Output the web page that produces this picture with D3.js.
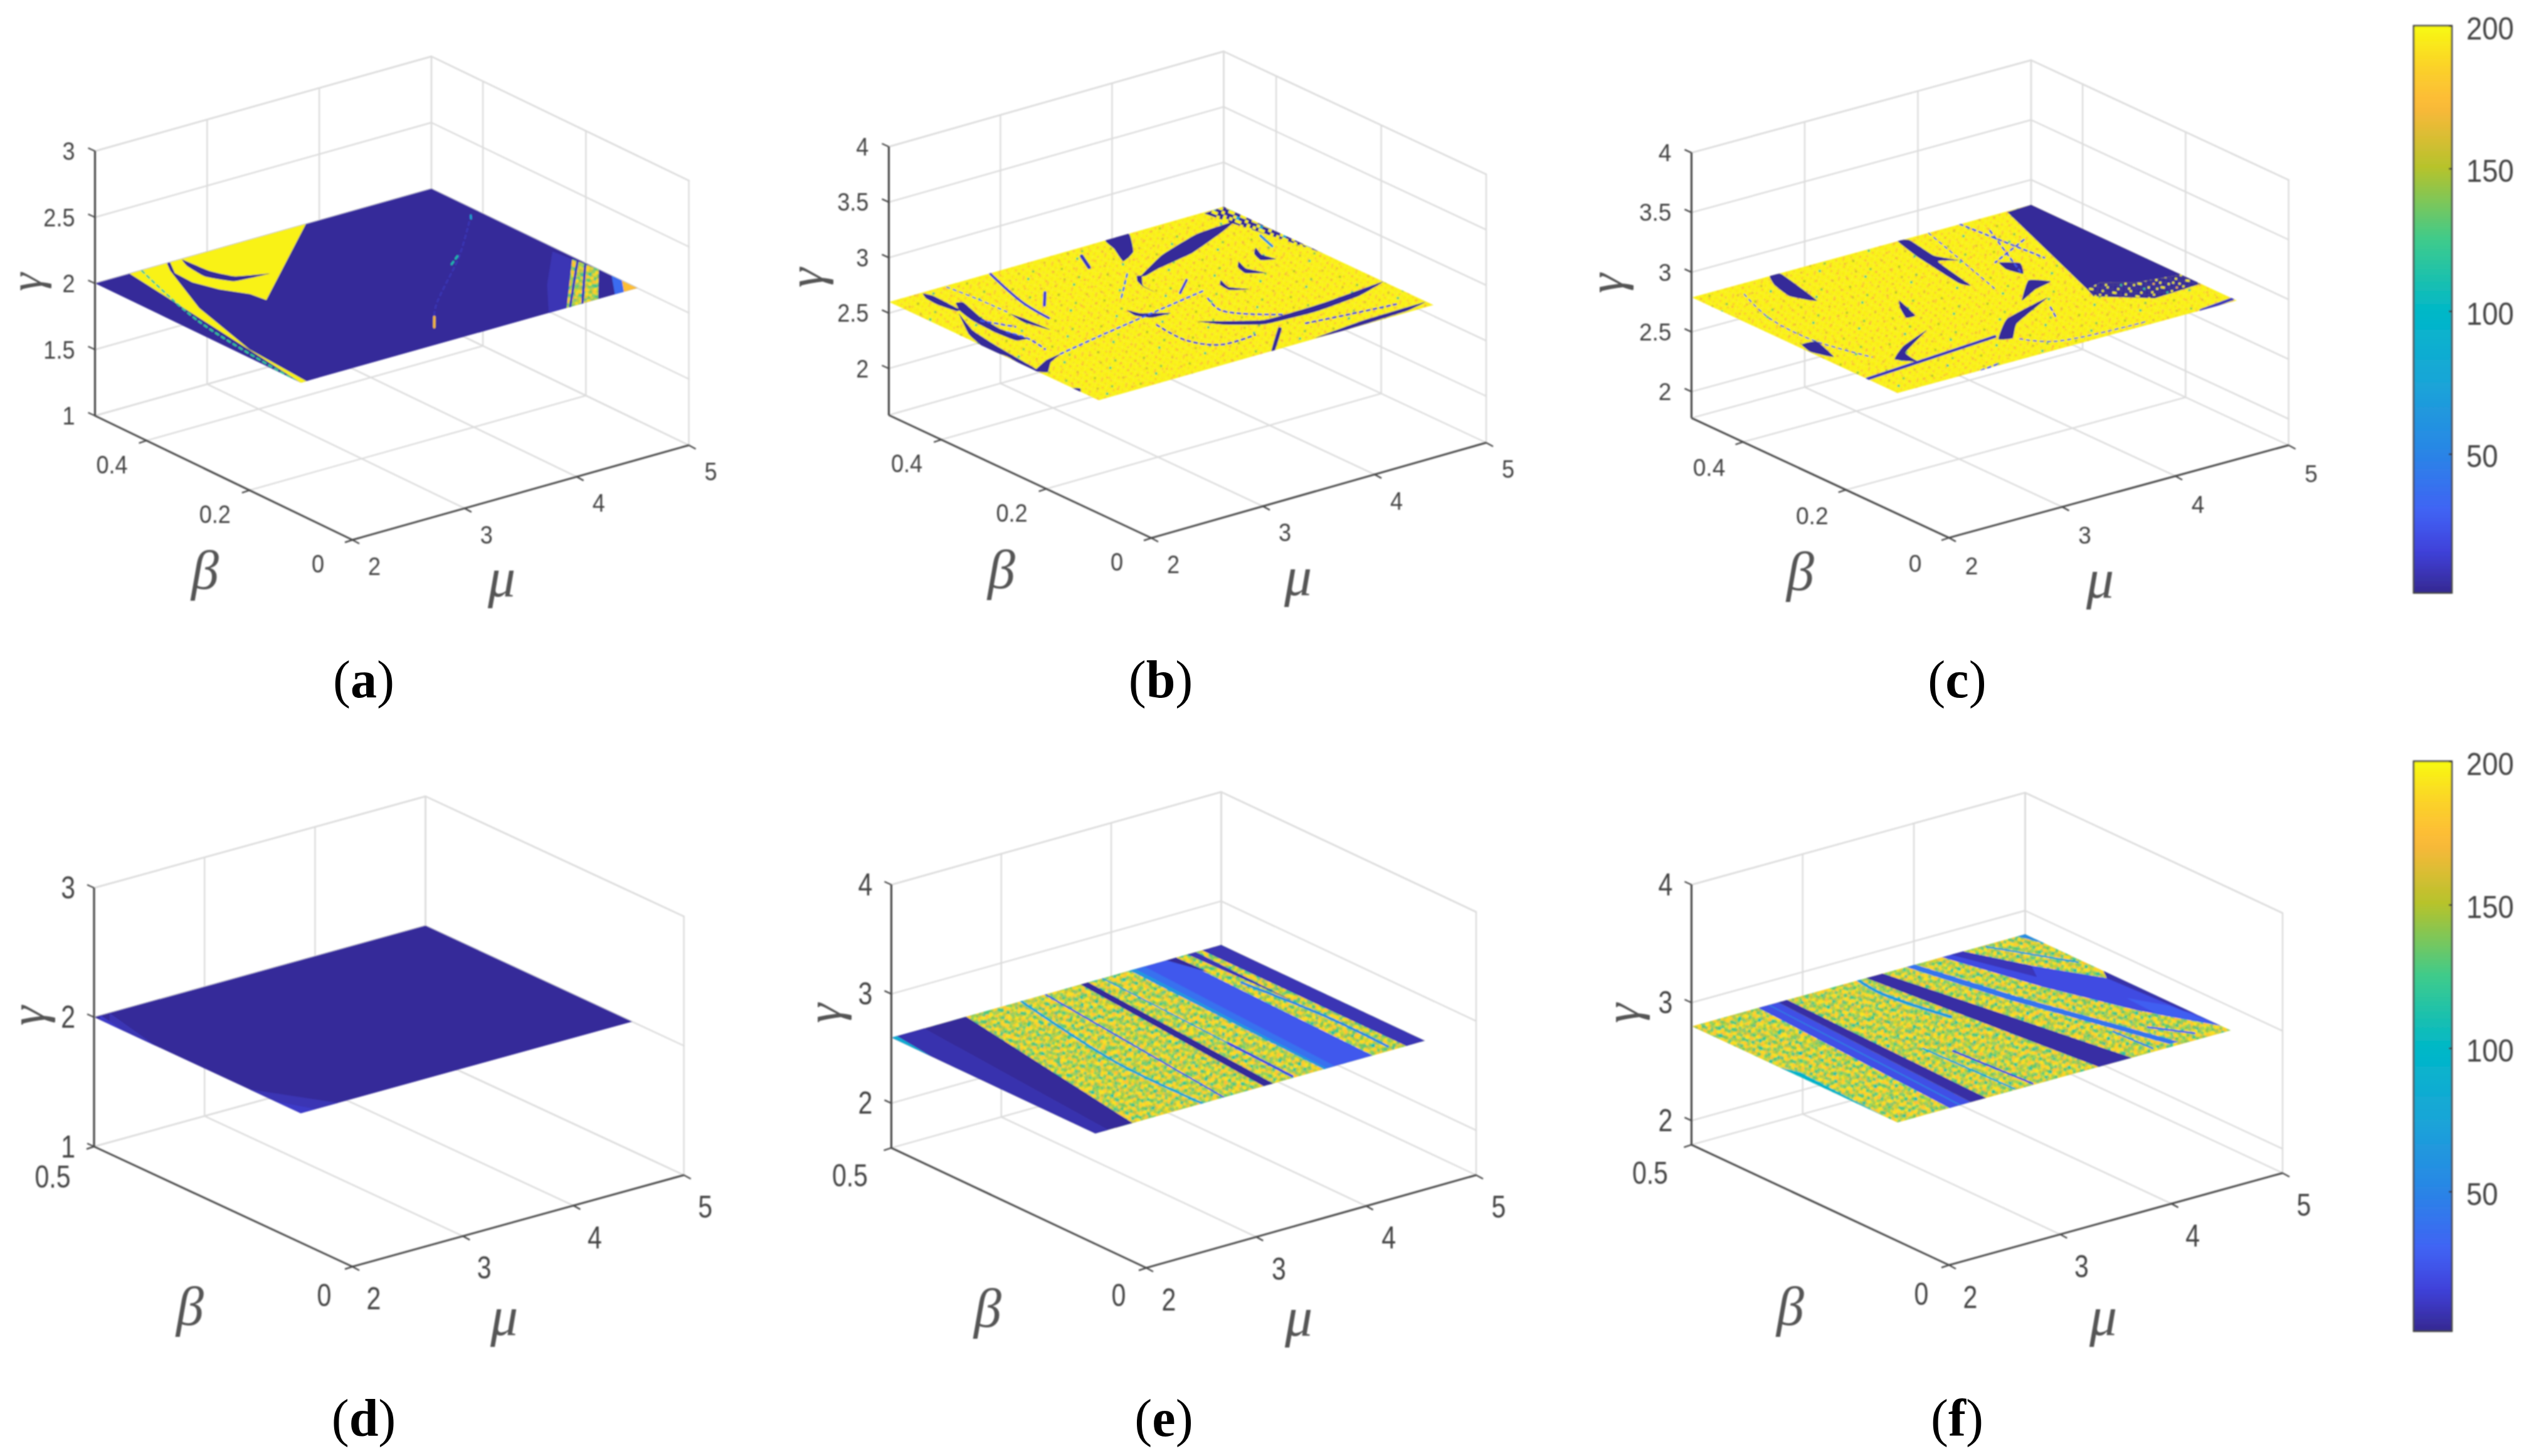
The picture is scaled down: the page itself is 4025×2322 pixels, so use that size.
<!DOCTYPE html>
<html><head><meta charset="utf-8">
<script src="https://cdn.jsdelivr.net/npm/d3@7/dist/d3.min.js"></script>
<style>html,body{margin:0;padding:0;background:#fff}svg{display:block}</style>
</head><body><svg id="fig" width="4025" height="2322"></svg>
<script>
// ---------- values ----------
const captions = ["a","b","c","d","e","f"];
const muTicks = [2,3,4,5];
const betaTicksTop = [0,0.2,0.4];
const betaTicksBottom = [0,0.5];
const gammaTicksA = [1,1.5,2,2.5,3];
const gammaTicksB = [2,2.5,3,3.5,4];
const gammaTicksD = [1,2,3];
const gammaTicksE = [2,3,4];
const gammaDomains = [[1,3],[1.58,4],[1.78,4],[1,3],[1.59,4],[1.795,4]];
const surfaceLevels = [2,2.6,2.79,2,2.6,2.8];
const betaFront = 0.1;
const colorTicks = [50,100,150,200];
const colorDomain = [1.3,200];
const parulaValues = [1,15,30,50,75,100,125,150,172,187,200];
const parulaColors = ["#35298f","#3f3fd8","#4063f5","#2a85e6","#1aa5d8","#00b8c8","#3ecb8c","#b5c32c","#fdb83a","#fbd528","#f8fb10"];

// speckle tiles: typical iteration values seen in the chaotic areas (null = see-through)
const tileSpeckle = [
 [192,185,140,125,188,192,178,135,105,182,192,145,190],
 [188,130,110,180,192,145,128,186,190,140,120,188,178],
 [135,178,192,188,120,182,192,118,184,192,176,130,142],
 [192,184,125,142,178,190,135,178,126,138,192,186,120],
 [146,112,186,192,130,115,186,192,180,186,128,110,188],
 [186,192,178,128,184,192,140,122,192,118,182,192,178],
 [130,140,188,184,142,178,188,176,136,190,185,135,126],
 [192,182,118,192,190,125,108,192,184,140,112,188,192],
 [178,126,136,180,132,186,190,130,178,192,176,182,138],
 [188,190,184,112,192,180,138,186,122,128,190,120,184],
 [120,142,192,186,126,144,192,182,188,186,140,192,176],
 [184,192,130,178,188,190,116,135,192,110,182,186,128],
 [140,176,188,120,134,182,186,192,142,178,192,132,190]];
const tileSpeckle2 = [
 [190,178,135,188,120,192,184,142,186,110,192],
 [125,192,184,140,186,176,128,192,130,182,176],
 [186,138,118,192,178,132,190,118,188,192,135],
 [178,192,186,126,188,192,142,184,122,140,188],
 [130,112,176,192,140,120,186,192,178,192,126],
 [192,184,142,182,190,178,132,110,186,134,184],
 [138,190,192,120,128,192,188,176,142,188,192],
 [184,122,178,186,192,136,118,192,184,120,140],
 [176,192,130,140,182,186,190,128,176,192,182],
 [128,186,190,192,114,142,178,192,132,186,118],
 [192,136,176,124,188,192,126,184,190,138,178]];
const tileYellow = [
 [197,197,190,197,197,197,197,185,197,197,197],
 [197,197,197,197,182,197,197,197,197,190,197],
 [192,197,197,197,197,197,190,197,197,197,197],
 [197,197,185,197,197,197,197,197,182,197,197],
 [197,197,197,197,192,197,197,197,197,197,190],
 [197,188,197,197,197,197,185,197,197,197,197],
 [197,197,197,180,197,197,197,197,192,197,197],
 [197,197,197,197,197,192,197,197,197,197,185],
 [186,197,197,197,197,197,197,183,197,197,197]];
const tileDots1 = [
 [null,null,null,null,null,null,null,null,null,null,null,null,null,null,null,null,null,null,null,null,null,null,null],
 [null,null,null,165,null,null,null,null,null,null,null,null,null,null,null,null,null,null,null,null,null,null,null],
 [null,null,null,null,null,null,null,null,null,null,null,null,null,null,null,null,null,null,178,null,null,null,null],
 [null,null,null,null,null,null,null,null,null,null,null,null,150,null,null,null,null,null,null,null,null,null,null],
 [null,null,null,null,null,null,null,null,null,null,null,null,null,null,null,null,null,null,null,null,null,null,null],
 [null,null,null,null,null,null,null,null,170,null,null,null,null,null,null,null,null,null,null,null,null,null,null],
 [null,null,null,null,null,null,null,null,null,null,null,null,null,null,null,null,null,null,null,null,null,140,null],
 [null,172,null,null,null,null,null,null,null,null,null,null,null,null,null,null,null,null,null,null,null,null,null],
 [null,null,null,null,null,null,null,null,null,null,null,null,null,null,160,null,null,null,null,null,null,null,null],
 [null,null,null,null,null,null,null,null,null,null,null,null,null,null,null,null,null,null,null,null,null,null,null],
 [null,null,null,null,null,175,null,null,null,null,null,null,null,null,null,null,null,null,null,120,null,null,null],
 [null,null,null,null,null,null,null,null,null,null,null,null,null,null,null,null,null,null,null,null,null,null,null],
 [null,null,null,null,null,null,null,null,null,null,168,null,null,null,null,null,null,null,null,null,null,null,null]];
const tileFringe = [
 [3,197,3,3,3,3,3,197,3,3,3],
 [3,3,3,3,3,3,3,3,3,3,3],
 [197,3,3,3,3,197,3,3,3,3,197],
 [3,3,3,3,3,3,3,3,3,3,3],
 [3,3,3,3,197,3,3,197,3,3,3],
 [3,3,197,3,3,3,3,3,3,197,3],
 [3,3,3,3,3,3,170,3,3,3,3],
 [197,3,3,3,3,3,3,3,3,3,197],
 [3,3,3,3,197,3,3,3,197,3,3],
 [3,3,120,3,3,3,3,3,3,3,3],
 [3,3,3,3,3,3,197,3,3,3,3]];
const tileNoisy = [
 [3,197,3,60,197,3,3,197],
 [197,3,197,3,3,197,120,3],
 [3,3,197,197,3,3,197,197],
 [197,80,3,3,197,3,3,3],
 [3,197,197,3,3,197,3,197],
 [3,3,3,197,3,197,197,3],
 [197,3,197,3,197,3,3,197],
 [3,197,3,3,3,197,3,3]];

// surface bases: value or tile name
const surfaceBases = [3,"yellow","yellow",3,"speckle","speckle"];

// regions: [value or tile, [[mu,beta],...]]
const regionsA = [
 [197,[[2.31,.5],[2.64,.5],[2.57,.478],[2.30,.363],[2.10,.222],[2.05,.1],[2,.1]]],
 [197,[[2.67,.5],[3.88,.5],[2.77,.335],[2.75,.362],[2.63,.396],[2.56,.433],[2.57,.469]]],
 [8,[[4.95,.254],[4.53,.173],[4.21,.1],[4.37,.1],[4.97,.22]]],
 ["speckle",[[4.97,.22],[5,.175],[4.65,.1],[4.37,.1]]],
 [35,[[5,.15],[5,.13],[4.88,.1],[4.8,.1]]],
 [175,[[5,.13],[5,.1],[4.88,.1]]]
];
const streaksA = [
 [3,[[2.77,.498],[2.79,.45],[2.87,.418],[3.10,.40],[2.81,.406],[2.70,.439],[2.72,.477]]]
];
const linesA = [
 [120,3,[[2.41,.498],[2.14,.328],[2,.113]]],
 [10,4,[[4.97,.21],[4.40,.1]]],
 [10,4,[[4.97,.195],[4.51,.1]]],
 [8,3,[[4.91,.404],[4.39,.312],[3.63,.194],[3.40,.146]]],
 [110,3,[[4.36,.31],[4.22,.292]]],
 [170,4,[[3.52,.172],[3.40,.146]]],
 [80,3,[[4.91,.404],[4.85,.39]]]
];

const regionsB = [
 ["noisy",[[4.81,.497],[5,.5],[5,.31],[4.93,.38],[4.85,.45]]]
];
const streaksB = [
 [3,[[2.29,.497],[2.32,.483],[2.305,.431],[2.27,.428],[2.24,.458],[2.25,.482]]],
 [3,[[2.36,.449],[2.41,.445],[2.33,.395],[2.30,.351],[2.34,.308],[2.25,.311],[2.23,.348],[2.245,.392],[2.29,.426]]],
 [3,[[2.255,.421],[2.13,.368],[2.08,.315],[2.05,.268],[2.02,.22],[1.98,.221],[2.01,.276],[1.98,.31],[2.06,.36]]],
 [3,[[1.99,.22],[2.18,.239],[2.34,.245],[2.18,.23],[2.05,.208]]],
 [3,[[2.535,.382],[2.556,.362],[2.57,.313],[2.51,.351]]],
 [3,[[3.94,.5],[4.15,.5],[3.96,.451],[3.79,.434],[3.89,.473]]],
 [3,[[3.72,.385],[4.08,.422],[4.52,.45],[4.88,.455],[4.69,.437],[4.28,.406],[3.89,.39],[3.74,.381]]],
 [3,[[3.69,.387],[3.72,.384],[3.61,.358],[3.60,.329],[3.60,.356],[3.63,.373]]],
 [3,[[3.23,.308],[3.27,.29],[3.44,.269],[3.28,.271],[3.21,.288]]],
 [3,[[3.50,.227],[3.88,.184],[4.43,.185],[5,.196],[4.70,.177],[4.26,.168],[3.83,.173],[3.60,.201]]],
 [3,[[3.55,.101],[3.86,.154],[3.87,.149],[3.58,.1]]],
 [3,[[3.95,.102],[4.44,.112],[4.99,.114],[4.77,.104],[4.22,.1]]],
 [3,[[4.69,.373],[4.64,.351],[4.67,.33],[4.57,.338],[4.61,.359]]],
 [3,[[4.43,.35],[4.39,.328],[4.45,.302],[4.33,.316],[4.36,.337]]],
 [3,[[4.11,.316],[4.07,.293],[4.16,.273],[4.04,.285],[4.05,.305]]],
 [3,[[1.99,.151],[2.04,.144],[2,.135]]]
];
const linesB = [
 [15,3,[[3.22,.249],[3.20,.19],[3.34,.153],[3.65,.153]]],
 [15,4,[[2.90,.498],[2.74,.403],[2.70,.344]]],
 [15,5,[[2.98,.411],[2.83,.38]]],
 [30,2,[[2.50,.496],[2.53,.442],[2.54,.39]]],
 [25,3,[[2.29,.386],[2.41,.346]]],
 [25,3,[[2.30,.339],[2.34,.306],[2.31,.268]]],
 [30,3,[[2.34,.245],[2.77,.262],[3.89,.302]]],
 [10,6,[[3.62,.477],[3.53,.444]]],
 [15,4,[[3.73,.313],[3.92,.341]]],
 [40,3,[[3.66,.399],[3.35,.344]]],
 [20,3,[[3.82,.279],[3.75,.241],[4.06,.183]]],
 [15,3,[[4.07,.146],[4.43,.137],[4.80,.129]]],
 [60,4,[[4.86,.40],[4.80,.365]]]
];

const regionsC = [
 [3,[[4.78,.498],[5,.5],[5,.208],[4.65,.22],[4.45,.246],[4.30,.237]]],
 ["fringe",[[4.30,.237],[4.25,.214],[4.57,.165],[5,.17],[5,.208],[4.65,.22],[4.45,.246]]]
];
const streaksC = [
 [3,[[2.69,.5],[2.78,.497],[2.66,.401],[2.56,.432],[2.61,.473]]],
 [3,[[3.82,.5],[3.90,.494],[3.85,.436],[3.93,.406],[3.80,.417],[3.70,.332],[3.66,.347],[3.74,.441]]],
 [3,[[4.13,.371],[4.24,.354],[4.13,.324],[4.09,.348]]],
 [3,[[4.19,.284],[4.08,.303],[3.80,.254],[4.01,.274]]],
 [3,[[3.98,.244],[3.50,.217],[3.21,.17],[3.30,.162],[3.50,.198]]],
 [3,[[2.92,.245],[2.60,.22],[2.39,.191],[2.49,.169],[2.53,.201]]],
 [3,[[2.05,.297],[2.17,.294],[2.08,.241],[2.01,.271]]],
 [3,[[3.12,.342],[3.03,.292],[2.95,.292],[3.04,.324]]]
];
const linesC = [
 [10,5,[[2,.159],[3.22,.179]]],
 [10,5,[[4.68,.1],[5,.108]]],
 [25,3,[[4.37,.5],[4.44,.351]]],
 [25,3,[[4.46,.461],[4.14,.332]]],
 [25,3,[[4.54,.413],[4.11,.374]]],
 [25,2,[[4.09,.499],[3.79,.303]]],
 [25,2,[[2.33,.47],[2.19,.394],[2.16,.304],[2.29,.213]]],
 [25,3,[[3.88,.216],[3.78,.182]]],
 [25,2,[[3.33,.155],[3.50,.123],[4.26,.11]]],
 [25,3,[[2.74,.1],[2.91,.105]]]
];

const regionsD = [
 [8,[[2,.47],[2.14,.5],[2,.38]]],
 [8,[[2,.1],[2.34,.1],[2,.2]]],
 [12,[[2,.49],[2.06,.5],[2,.44]]],
 [12,[[2,.1],[2.14,.1],[2,.15]]]
];

// bands: [value or tile, muBack0, muBack1, muFront0, muFront1]
const bandsE = [
 [3,2,2.68,2,2.34],
 [7,2,2.30,2,2.12],
 [25,3.39,3.41,3.16,3.18],
 [3,3.72,3.79,3.53,3.62],
 [26,4.17,4.59,4.08,4.525],
 [65,4.17,4.22,4.08,4.11],
 [38,4.22,4.30,4.11,4.18],
 ["speckle",4.59,4.825,4.525,4.83],
 [8,4.825,5,4.83,5]
];
const regionsE = [
 [3,[[4.50,.5],[4.59,.5],[4.60,.437]]],
 [8,[[4.69,.5],[4.77,.5],[4.73,.3]]],
 [85,[[2,.5],[2.05,.5],[2,.42]]]
];
const linesE = [
 [75,4,[[3.18,.5],[2.98,.27],[2.975,.1]]],
 [20,4,[[3.85,.239],[3.815,.105]]],
 [65,2,[[3.92,.5],[3.85,.239]]],
 [55,4,[[4.66,.387],[4.73,.234],[4.72,.113]]]
];
const bandsF = [
 [22,2.60,2.78,2.47,2.66],
 [60,2.69,2.70,2.56,2.57],
 [5,2.78,2.86,2.66,2.80],
 [5,3.57,3.72,3.81,4.11]
];
const regionsF = [
 [95,[[2,.33],[2.06,.3],[2,.12]]],
 [40,[[3.93,.5],[4.01,.5],[4.205,.339],[4.565,.108],[4.486,.109],[4.114,.341]]],
 [20,[[4.25,.5],[4.44,.5],[4.655,.413],[4.93,.326],[5,.348],[5,.12],[4.71,.221],[4.465,.349]]],
 [9,[[4.44,.5],[4.33,.5],[4.55,.38],[4.655,.413]]],
 [28,[[4.95,.21],[5,.12],[4.78,.195],[4.8,.26]]],
 [6,[[5,.348],[4.93,.326],[4.97,.188],[5,.17]]],
 [55,[[5,.5],[4.93,.5],[5,.46]]]
];
const linesF = [
 [70,5,[[3.5,.5],[3.47,.45],[3.58,.338]]],
 [20,3,[[3.18,.247],[3.235,.104]]],
 [80,3,[[3.04,.275],[3.07,.104]]],
 [70,3,[[4.63,.495],[4.96,.389]]],
 [30,3,[[4.57,.169],[4.76,.119]]],
 [55,3,[[4.32,.182],[4.34,.11]]]
];

// ---------- layout ----------
const layouts = [
 {zx:151.5,ztop:241,zbot:663,front:[562,861],right:[1098.5,710],font:41,sq:.88,lz:-32,lb:[-55,38],lm:[35,42],gamma:[66,450],gs:74,betaL:[327,909],muL:[800,921],cap:[580,1083],dash:true},
 {zx:1417.4,ztop:234,zbot:662,front:[1836,858],right:[2370,706],font:41,sq:.88,lz:-32,lb:[-55,38],lm:[35,42],gamma:[1312,443],gs:80,betaL:[1597,908],muL:[2070,919],cap:[1851,1083],dash:true},
 {zx:2697.4,ztop:243.6,zbot:666.6,front:[3108,857.6],right:[3649.6,710],font:39,sq:.95,lz:-32,lb:[-54,41],lm:[36,45],gamma:[2588,452],gs:80,betaL:[2871,911],muL:[3349,923],cap:[3121,1083],dash:true},
 {zx:150,ztop:1416,zbot:1828.5,front:[562,2020],right:[1090.6,1874],font:50,sq:.82,lz:-30,lb:[-66,48],lm:[34,51],b0:[-45,46],gamma:[71,1620],gs:80,betaL:[303,2083],muL:[804,2099],cap:[580,2261]},
 {zx:1421.4,ztop:1411,zbot:1830.7,front:[1828,2022],right:[2354,1874],font:50,sq:.82,lz:-30,lb:[-66,44],lm:[36,51],b0:[-44,44],gamma:[1341,1616],gs:80,betaL:[1575,2086],muL:[2071,2100],cap:[1856,2261]},
 {zx:2697.4,ztop:1411,zbot:1825.6,front:[3108,2017.5],right:[3640,1870.7],font:50,sq:.82,lz:-30,lb:[-66,45],lm:[34,51],b0:[-44,46],gamma:[2614,1616],gs:80,betaL:[2855,2083],muL:[3354,2099],cap:[3121,2261]}
];
const colorbars = [
 {x0:3849,x1:3910,top:41,bottom:945.6},
 {x0:3849,x1:3910,top:1214,bottom:2123}
];
const panelData = [
 {gammaTicks:gammaTicksA,betaTicks:betaTicksTop,regions:regionsA,streaks:streaksA,lines:linesA,bands:[]},
 {gammaTicks:gammaTicksB,betaTicks:betaTicksTop,regions:regionsB,streaks:streaksB,lines:linesB,bands:[]},
 {gammaTicks:gammaTicksB,betaTicks:betaTicksTop,regions:regionsC,streaks:streaksC,lines:linesC,bands:[]},
 {gammaTicks:gammaTicksD,betaTicks:betaTicksBottom,regions:regionsD,streaks:[],lines:[],bands:[]},
 {gammaTicks:gammaTicksE,betaTicks:betaTicksBottom,regions:regionsE,streaks:[],lines:linesE,bands:bandsE},
 {gammaTicks:gammaTicksE,betaTicks:betaTicksBottom,regions:regionsF,streaks:[],lines:linesF,bands:bandsF}
];

// ---------- drawing ----------
const color = d3.scaleLinear().domain(parulaValues).range(parulaColors).clamp(true);
const svg = d3.select("#fig");
const defs = svg.append("defs");
defs.append("filter").attr("id","soft").attr("filterUnits","userSpaceOnUse")
  .attr("x",0).attr("y",0).attr("width",4025).attr("height",2322)
  .append("feGaussianBlur").attr("stdDeviation",0.9);
defs.append("filter").attr("id","softS").attr("filterUnits","userSpaceOnUse")
  .attr("x",0).attr("y",0).attr("width",4025).attr("height",2322)
  .append("feGaussianBlur").attr("stdDeviation",1.2);

function makeTile(id, tile, cell, rot){
  const n = tile[0].length, m = tile.length;
  const p = defs.append("pattern").attr("id",id).attr("patternUnits","userSpaceOnUse")
    .attr("width",n*cell).attr("height",m*cell).attr("patternTransform",`rotate(${rot})`);
  tile.forEach((row,j)=>row.forEach((v,i)=>{
    if(v===null) return;
    p.append("rect").attr("x",i*cell).attr("y",j*cell).attr("width",cell+.3).attr("height",cell+.3).attr("fill",color(v));
  }));
}
makeTile("t-speckle",tileSpeckle,5.2,17);
makeTile("t-speckle2",tileSpeckle2,6.3,-23);
makeTile("t-yellow",tileYellow,3.6,13);
makeTile("t-dots1",tileDots1,3.2,7);
makeTile("t-fringe",tileFringe,3.4,9);
makeTile("t-noisy",tileNoisy,5,21);

const muFrac = d3.scaleLinear().domain([2,5]).range([0,1]);
const betaFrac = d3.scaleLinear().domain([.5,0]).range([0,1]);
const lineGen = d3.line();

function squeeze(sel, k){
  sel.each(function(){
    const L = this.getComputedTextLength();
    d3.select(this).attr("textLength",L*k).attr("lengthAdjust","spacingAndGlyphs");
  });
}

captions.forEach((name,i)=>{
  const L = layouts[i], D = panelData[i];
  const gammaH = d3.scaleLinear().domain(gammaDomains[i]).range([0,L.ztop-L.zbot]);
  const ex=[L.right[0]-L.front[0],L.right[1]-L.front[1]], eb=[L.front[0]-L.zx,L.front[1]-L.zbot];
  const P = (mu,beta,gamma)=>[
    L.zx+muFrac(mu)*ex[0]+betaFrac(beta)*eb[0],
    L.zbot+muFrac(mu)*ex[1]+betaFrac(beta)*eb[1]+gammaH(gamma)];
  const [g0,g1] = gammaDomains[i];
  const g = svg.append("g").attr("filter","url(#soft)");
  const seg=(a,b,stroke,w)=>g.append("line").attr("x1",a[0]).attr("y1",a[1]).attr("x2",b[0]).attr("y2",b[1])
     .attr("stroke",stroke).attr("stroke-width",w).attr("stroke-linecap","round");
  const grid="#dcdcdc", gw=2.4, ax="#4a4a4a";

  // walls and floor grid
  muTicks.forEach(m=>{ if(m>2) seg(P(m,.5,g0),P(m,.5,g1),grid,gw); if(m>2&&m<5) seg(P(m,0,g0),P(m,.5,g0),grid,gw); });
  D.betaTicks.concat([.5]).forEach(b=>{ seg(P(5,b,g0),P(5,b,g1),grid,gw); if(b>0&&b<.5) seg(P(2,b,g0),P(5,b,g0),grid,gw); });
  seg(P(2,.5,g0),P(5,.5,g0),grid,gw); seg(P(5,.5,g0),P(5,0,g0),grid,gw);
  seg(P(2,.5,g1),P(5,.5,g1),grid,gw); seg(P(5,.5,g1),P(5,0,g1),grid,gw);
  D.gammaTicks.forEach(t=>{ seg(P(2,.5,t),P(5,.5,t),grid,gw); seg(P(5,.5,t),P(5,0,t),grid,gw); });

  // surface
  const lvl = surfaceLevels[i];
  const S = (pt)=>P(pt[0],pt[1],lvl);
  const clipId = "clip-"+name;
  const corners = [[2,.5],[5,.5],[5,betaFront],[2,betaFront]];
  defs.append("clipPath").attr("id",clipId).append("path").attr("d",lineGen.curve(d3.curveLinearClosed)(corners.map(S)));
  const sf = svg.append("g").attr("filter","url(#softS)").append("g").attr("clip-path",`url(#${clipId})`);
  const fillPath=(val,d)=>{
    if(typeof val==="number"){ sf.append("path").attr("d",d).attr("fill",color(val)); return; }
    sf.append("path").attr("d",d).attr("fill",`url(#t-${val})`);
    if(val==="speckle") sf.append("path").attr("d",d).attr("fill","url(#t-speckle2)").attr("opacity",.45);
    if(val==="yellow") sf.append("path").attr("d",d).attr("fill","url(#t-dots1)");
  };
  const closed = lineGen.curve(d3.curveLinearClosed);
  fillPath(surfaceBases[i], closed(corners.map(S)));
  D.bands.forEach(b=>{
    fillPath(b[0], d3.line().curve(d3.curveLinearClosed)([[b[1],.5],[b[2],.5],[b[4],betaFront],[b[3],betaFront]].map(S)));
  });
  D.regions.forEach(r=>fillPath(r[0], d3.line().curve(d3.curveLinearClosed)(r[1].map(S))));
  D.streaks.forEach(r=>fillPath(r[0], d3.line().curve(d3.curveCardinalClosed.tension(.6))(r[1].map(S))));
  D.lines.forEach(r=>sf.append("path").attr("d",d3.line().curve(d3.curveCatmullRom.alpha(.5))(r[2].map(S)))
     .attr("fill","none").attr("stroke",color(r[0])).attr("stroke-width",r[1]).attr("stroke-linecap","round")
     .attr("stroke-dasharray",(L.dash&&r[1]<=3)?"5 6":null));

  // axes
  const ga = svg.append("g").attr("filter","url(#soft)");
  const segA=(a,b,w)=>ga.append("line").attr("x1",a[0]).attr("y1",a[1]).attr("x2",b[0]).attr("y2",b[1])
     .attr("stroke",ax).attr("stroke-width",w);
  segA(P(2,.5,g0),P(2,.5,g1),3.2);
  segA(P(2,.5,g0),P(2,0,g0),3);
  segA(P(2,0,g0),P(5,0,g0),3);
  const tickText=(x,y,txt,anchor)=>ga.append("text").attr("x",x).attr("y",y).attr("text-anchor",anchor)
     .attr("dominant-baseline","central").attr("font-family","'Liberation Sans',Arial,sans-serif")
     .attr("font-size",L.font).attr("fill","#444").text(txt);
  const texts=[];
  D.gammaTicks.forEach(t=>{ const p=P(2,.5,t);
    segA(p,[p[0]-11,p[1]-5],2.4);
    texts.push(tickText(p[0]+L.lz,p[1],String(t),"end")); });
  D.betaTicks.forEach(b=>{ const p=P(2,b,g0);
    segA(p,[p[0]-12,p[1]+4],2.4);
    const o=(b===0&&L.b0)?L.b0:L.lb;
    texts.push(tickText(p[0]+o[0],p[1]+o[1],String(b),"middle")); });
  muTicks.forEach(m=>{ const p=P(m,0,g0);
    segA(p,[p[0]+11,p[1]+6],2.4);
    texts.push(tickText(p[0]+L.lm[0],p[1]+L.lm[1],String(m),"middle")); });
  texts.forEach(t=>squeeze(t,L.sq));

  // axis titles
  const greek=(pos,ch,size,rot)=>ga.append("text")
     .attr("transform",`translate(${pos[0]},${pos[1]}) rotate(${rot})`)
     .attr("text-anchor","middle").attr("dominant-baseline","central")
     .attr("font-family","'Liberation Serif',serif").attr("font-style","italic")
     .attr("font-size",size).attr("fill","#555").text(ch);
  ga.append("text").attr("transform",`translate(${L.gamma[0]},${L.gamma[1]}) rotate(-90)`)
     .attr("text-anchor","middle").attr("font-family","'Liberation Serif',serif").attr("font-style","italic")
     .attr("font-size",L.gs).attr("fill","#555").text("γ");
  greek(L.betaL,"β",88,0);
  greek(L.muL,"μ",88,0);

  // caption
  const c = svg.append("text").attr("x",L.cap[0]).attr("y",L.cap[1]).attr("text-anchor","middle")
    .attr("dominant-baseline","central").attr("font-family","'Liberation Serif',serif")
    .attr("font-size",84).attr("fill","#000");
  c.append("tspan").text("(");
  c.append("tspan").attr("font-weight","bold").text(name);
  c.append("tspan").text(")");
});

// colorbars
const grad = defs.append("linearGradient").attr("id","parula").attr("x1",0).attr("y1",1).attr("x2",0).attr("y2",0);
const stopScale = d3.scaleLinear().domain(colorDomain).range([0,1]);
d3.range(0,41).forEach(k=>{
  const v = colorDomain[0]+(colorDomain[1]-colorDomain[0])*k/40;
  grad.append("stop").attr("offset",stopScale(v)).attr("stop-color",color(v));
});
colorbars.forEach(cb=>{
  const y = d3.scaleLinear().domain(colorDomain).range([cb.bottom,cb.top]);
  const g = svg.append("g").attr("filter","url(#soft)");
  g.append("rect").attr("x",cb.x0).attr("y",cb.top).attr("width",cb.x1-cb.x0).attr("height",cb.bottom-cb.top)
    .attr("fill","url(#parula)").attr("stroke","#444").attr("stroke-width",2.6);
  const axis = d3.axisRight(y).tickValues(colorTicks).tickSize(-5).tickPadding(23).tickFormat(d3.format("d"));
  const a = g.append("g").attr("transform",`translate(${cb.x1},0)`).call(axis);
  a.select(".domain").remove();
  a.selectAll("line").attr("stroke","#333").attr("stroke-width",2.4);
  const t = a.selectAll("text").attr("font-family","'Liberation Sans',Arial,sans-serif").attr("font-size",50)
     .attr("fill","#444").attr("dy","0.42em");
  squeeze(t,.91);
});
</script></body></html>
